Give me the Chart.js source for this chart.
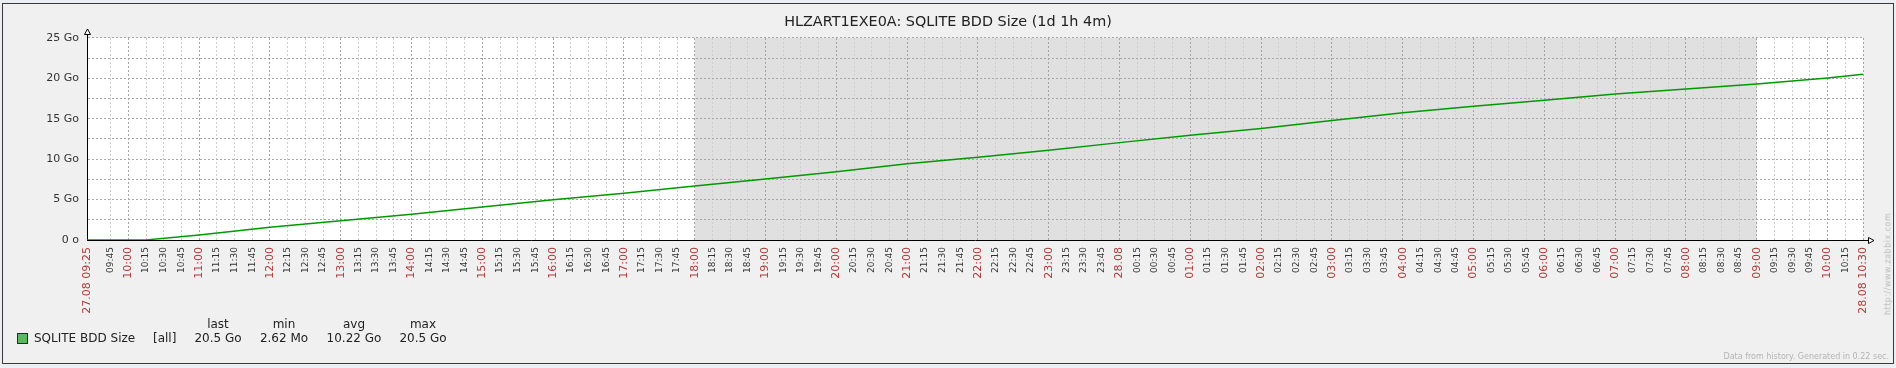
<!DOCTYPE html>
<html>
<head>
<meta charset="utf-8">
<script src="https://cdn.jsdelivr.net/npm/chart.js@4.4.1/dist/chart.umd.min.js"></script>
<style>
  html, body { margin: 0; padding: 0; background: #ebeef2; }
  body { width: 1896px; height: 368px; position: relative; overflow: hidden; font-family: "DejaVu Sans", sans-serif; }
  .frame { position: absolute; left: 2px; top: 3px; width: 1892px; height: 361px; box-sizing: border-box;
           background: #f0f0f0; border: 1px solid #3a3a3a; }
  #graph { position: absolute; left: 0; top: 0; }
  .lg { position: absolute; font-size: 12px; color: #222; white-space: nowrap; line-height: 14px; }
  .c { transform: translateX(-50%); }
  .swatch { position: absolute; left: 17px; top: 333px; width: 9px; height: 9px; background: #5cb85c; border: 1px solid #2a2a2a; }
  .foot { position: absolute; right: 7px; top: 352px; font-size: 8px; color: #b4b4b4; white-space: nowrap; }
  .url { position: absolute; left: 1888px; top: 264px; font-size: 8px; color: #bbbbbb; white-space: nowrap;
         transform: translate(-50%, -50%) rotate(-90deg); letter-spacing: 0.5px; }
</style>
</head>
<body>
<div class="frame"></div>
<canvas id="graph" width="1896" height="368"></canvas>

<div class="swatch"></div>
<div class="lg" style="left:34px; top:331px;">SQLITE BDD Size</div>
<div class="lg" style="left:153px; top:331px;">[all]</div>
<div id="legendStats"></div>
<div class="foot">Data from history. Generated in 0.22 sec.</div>
<div class="url">http://www.zabbix.com</div>

<script>
// graph window: 27.08 09:25 -> 28.08 10:30
const startClock = '09:25';
const spanMinutes = 1505;
const nightStart = '18:00';
const nightEnd = '09:00';

// samples (Go)
const sampleTimes = ['09:25', '10:00', '10:15', '11:00', '12:00', '13:00', '14:00', '15:00', '16:00',
  '17:00', '18:00', '19:00', '20:00', '21:00', '22:00', '23:00', '00:00', '01:00', '02:00', '03:00',
  '04:00', '05:00', '06:00', '07:00', '08:00', '09:00', '10:00', '10:30'];
const sizeGo = [0.0026, 0.004, 0.01, 0.62, 1.57, 2.39, 3.18, 4.08, 4.99,
  5.78, 6.68, 7.55, 8.46, 9.45, 10.24, 11.1, 12.05, 12.95, 13.8, 14.8,
  15.76, 16.55, 17.28, 18.08, 18.69, 19.3, 20.05, 20.5];

const statHeaders = ['last', 'min', 'avg', 'max'];
const statValues = ['20.5 Go', '2.62 Mo', '10.22 Go', '20.5 Go'];
const statCenters = [218, 284, 354, 423];

const yTickStep = 2.5;
const yMax = 25;
const xTickStep = 15;

const clockMin = s => { const [h, m] = s.split(':').map(Number); return h * 60 + m; };
const startMin = clockMin(startClock);

// clock strings -> minutes from start, rolling over midnight
function toOffsets(times) {
  let day = 0, prev = -1;
  return times.map(t => {
    let c = clockMin(t);
    if (c < prev) day++;
    prev = c;
    return c + day * 1440 - startMin;
  });
}
const offsets = toOffsets(sampleTimes);
const points = offsets.map((x, i) => ({ x, y: sizeGo[i] }));
const nightFrom = clockMin(nightStart) - startMin;
const nightTo = clockMin(nightEnd) + 1440 - startMin;

// x ticks: 09:25, then every quarter from 09:45 to 10:30
const xTicks = [0];
for (let m = 20; m <= spanMinutes; m += xTickStep) xTicks.push(m);

const pad2 = n => String(n).padStart(2, '0');
const clockOf = v => (startMin + v) % 1440;
const isHour = v => v === 0 || v === spanMinutes || clockOf(v) % 60 === 0;
const tickIsHour = c => !!(c && c.tick && isHour(c.tick.value));
function xLabel(v) {
  const c = clockOf(v);
  const hhmm = pad2(Math.floor(c / 60)) + ':' + pad2(c % 60);
  if (v === 0) return '27.08 ' + hhmm;
  if (v === spanMinutes) return '28.08 ' + hhmm;
  if (c === 0) return '28.08';
  return hhmm;
}

// legend stats
const statsEl = document.getElementById('legendStats');
statHeaders.forEach((h, i) => {
  statsEl.insertAdjacentHTML('beforeend',
    `<div class="lg c" style="left:${statCenters[i]}px; top:317px;">${h}</div>` +
    `<div class="lg c" style="left:${statCenters[i]}px; top:331px;">${statValues[i]}</div>`);
});

const FONT = '"DejaVu Sans", sans-serif';

const plotDecor = {
  id: 'plotDecor',
  beforeDraw(chart) {
    const { ctx, chartArea: a, scales: { x } } = chart;
    ctx.save();
    ctx.fillStyle = '#ffffff';
    ctx.fillRect(a.left, a.top, a.right - a.left, a.bottom - a.top);
    const x0 = x.getPixelForValue(nightFrom), x1 = x.getPixelForValue(nightTo);
    ctx.fillStyle = '#e0e0e0';
    ctx.fillRect(x0, a.top, x1 - x0, a.bottom - a.top);
    ctx.restore();
  },
  afterDraw(chart) {
    const { ctx, chartArea: a } = chart;
    const l = Math.round(a.left) + 0.5, b = Math.round(a.bottom) + 0.5, r = Math.round(a.right);
    ctx.save();
    ctx.strokeStyle = '#000';
    ctx.fillStyle = '#fff';
    ctx.lineWidth = 1;
    ctx.beginPath();
    ctx.moveTo(l, a.top); ctx.lineTo(l, a.top - 4);
    ctx.moveTo(r, b); ctx.lineTo(r + 5, b);
    ctx.stroke();
    ctx.beginPath();
    ctx.moveTo(l - 3, a.top - 3.5); ctx.lineTo(l + 3, a.top - 3.5); ctx.lineTo(l, a.top - 9); ctx.closePath();
    ctx.fill(); ctx.stroke();
    ctx.beginPath();
    ctx.moveTo(r + 5.5, b - 3); ctx.lineTo(r + 5.5, b + 3); ctx.lineTo(r + 11, b); ctx.closePath();
    ctx.fill(); ctx.stroke();
    ctx.restore();
  }
};

new Chart(document.getElementById('graph'), {
  type: 'line',
  data: {
    datasets: [{
      label: 'SQLITE BDD Size',
      data: points,
      borderColor: '#009900',
      borderWidth: 1.5,
      pointRadius: 0,
      fill: false,
      tension: 0
    }]
  },
  options: {
    responsive: false,
    animation: false,
    devicePixelRatio: 1,
    layout: { padding: 0 },
    plugins: {
      legend: { display: false },
      tooltip: { enabled: false },
      title: {
        display: true,
        text: 'HLZART1EXE0A: SQLITE BDD Size (1d 1h 4m)',
        color: '#222',
        font: { family: FONT, size: 14.4, weight: 'normal', lineHeight: 1.2 },
        padding: { top: 13.5, bottom: 7.2 }
      }
    },
    scales: {
      x: {
        type: 'linear',
        min: 0, max: spanMinutes,
        afterBuildTicks: s => { s.ticks = xTicks.map(v => ({ value: v })); },
        afterFit: s => { s.height = 128; },
        grid: {
          drawTicks: false,
          color: c => tickIsHour(c) ? '#a4a4a4' : '#cdcdcd',
          lineWidth: 1
        },
        border: { display: true, color: '#000', width: 1, dash: [2, 2] },
        ticks: {
          autoSkip: false,
          minRotation: 90, maxRotation: 90,
          padding: 7,
          callback: v => xLabel(v),
          color: c => tickIsHour(c) ? '#b03a3a' : '#333',
          font: c => ({ family: FONT, size: tickIsHour(c) ? 11 : 9 })
        }
      },
      y: {
        min: 0, max: yMax,
        afterFit: s => { s.width = 87; },
        afterBuildTicks: s => {
          const t = [];
          for (let v = 0; v <= yMax; v += yTickStep) t.push({ value: v });
          s.ticks = t;
        },
        grid: { drawTicks: false, color: '#a8a8a8', lineWidth: 1 },
        border: { display: true, color: '#000', width: 1, dash: [2, 2] },
        ticks: {
          padding: 8,
          color: '#333',
          font: { family: FONT, size: 11 },
          callback: v => v % 5 !== 0 ? '' : (v === 0 ? '0 o' : v + ' Go')
        }
      },
      // empty right gutter so the title stays centred on the whole image
      gutter: {
        type: 'linear',
        position: 'right',
        min: 0, max: 1,
        afterFit: s => { s.width = 33; },
        grid: { display: false, drawOnChartArea: false },
        border: { display: false },
        ticks: { display: false }
      }
    }
  },
  plugins: [plotDecor]
});
</script>
</body>
</html>
